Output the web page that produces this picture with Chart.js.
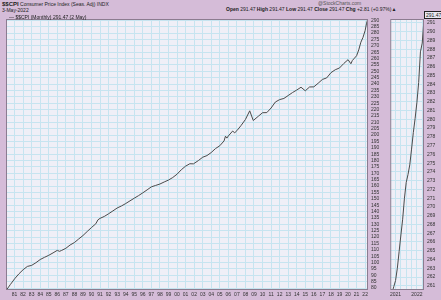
<!DOCTYPE html>
<html>
<head>
<meta charset="utf-8">
<script src="https://cdn.jsdelivr.net/npm/chart.js@4"></script>
<style>
  body { margin: 0; background: #d5bcd8; font-family: "Liberation Sans", Arial, sans-serif; }
  #wrap { position: relative; width: 441px; height: 300px; overflow: hidden; background: #d5bcd8; }
  canvas { position: absolute; }
  .t { position: absolute; font-size: 5px; color: #222; white-space: nowrap; line-height: 6px; }
  .b { font-weight: bold; }
</style>
</head>
<body>
<div id="wrap">
  <div class="t" style="left:2px;top:1px;"><span class="b" style="font-size:6px">$$CPI</span> Consumer Price Index (Seas. Adj) INDX</div>
  <div class="t" style="left:2px;top:7px;">3-May-2022</div>
  <div class="t" style="left:318px;top:0px;color:#555;">@StockCharts.com</div>
  <div class="t" style="left:226px;top:6px;"><span class="b">Open</span> 291.47 <span class="b">High</span> 291.47 <span class="b">Low</span> 291.47 <span class="b">Close</span> 291.47 <span class="b">Chg</span> +2.81 (+0.97%)&#9650;</div>
  <canvas id="left" width="382" height="287" style="left:6px;top:13px;"></canvas>
  <canvas id="right" width="53" height="287" style="left:388px;top:13px;"></canvas>
  <div class="t" style="left:9px;top:14px;">&#8212; $$CPI (Monthly) 291.47 (2 May)</div>
  <div class="t" style="left:424px;top:11px;background:#e8e8f0;border:1px solid #222;padding:0 1px;">291.47</div>
</div>
<script>
// CPI-U, seasonally adjusted (1980 - May 2022)
const leftDates = ['1980-01','1980-07','1981-01','1981-07','1982-01','1982-07','1983-01','1983-07',
  '1984-01','1984-07','1985-01','1985-07','1986-01','1986-04','1986-07','1987-01','1987-07',
  '1988-01','1988-07','1989-01','1989-07','1990-01','1990-07','1990-10','1991-01','1991-07',
  '1992-01','1992-07','1993-01','1993-07','1994-01','1994-07','1995-01','1995-07','1996-01',
  '1996-07','1997-01','1997-07','1998-01','1998-07','1999-01','1999-07','2000-01','2000-07',
  '2001-01','2001-07','2001-12','2002-07','2003-01','2003-07','2004-01','2004-07','2005-01',
  '2005-07','2005-09','2005-11','2006-01','2006-07','2006-10','2007-01','2007-07','2008-01',
  '2008-07','2008-12','2009-07','2010-01','2010-07','2011-01','2011-07','2012-01','2012-07',
  '2013-01','2013-07','2014-01','2014-07','2015-01','2015-07','2016-01','2016-07','2017-01',
  '2017-07','2018-01','2018-07','2019-01','2019-07','2020-01','2020-05','2020-07','2020-10',
  '2021-01','2021-04','2021-07','2021-10','2022-01','2022-03','2022-05'];
const leftValues = [78.0,82.7,87.2,91.1,94.4,97.0,97.8,99.9,
  102.4,104.1,105.7,107.6,109.6,108.8,109.5,111.2,113.8,
  115.7,118.5,121.2,124.4,127.5,130.4,133.5,134.7,136.2,
  138.3,140.5,142.8,144.4,146.3,148.4,150.5,152.5,154.7,
  157.0,159.4,160.5,161.6,163.2,164.7,166.7,169.3,172.8,
  175.6,177.5,177.4,180.0,182.6,183.9,186.3,189.4,191.6,
  195.4,199.1,197.6,199.3,203.1,201.8,203.4,207.6,212.2,
  219.0,211.4,214.7,217.5,217.6,221.2,225.9,227.8,228.7,
  231.0,233.3,235.3,237.5,234.7,237.7,237.8,240.6,243.6,
  244.8,248.9,251.2,252.6,256.1,259.1,255.9,258.4,260.3,
  262.2,266.8,272.8,276.6,282.0,287.7,291.47];

// monthly, Oct 2020 - May 2022 (zoomed panel)
const rightDates = ['2020-10','2020-11','2020-12','2021-01','2021-02','2021-03','2021-04','2021-05',
  '2021-06','2021-07','2021-08','2021-09','2021-10','2021-11','2021-12','2022-01','2022-02',
  '2022-03','2022-04','2022-05'];
const rightValues = [260.3,260.2,260.9,261.6,263.0,264.9,266.8,268.6,
  271.0,272.8,273.7,274.8,276.6,278.5,280.1,281.9,284.2,
  287.7,288.7,291.47];

const yearLabels = ['2021', '2022'];

function toYear(s) {
  const p = s.split('-');
  return +p[0] + (+p[1] - 1) / 12;
}
function points(dates, vals) {
  return dates.map((d, i) => ({ x: toYear(d), y: vals[i] }));
}

const plotBg = {
  id: 'plotBg',
  beforeDraw(chart) {
    const a = chart.chartArea, c = chart.ctx;
    c.save();
    c.fillStyle = '#efeff7';
    c.fillRect(a.left, a.top, a.right - a.left, a.bottom - a.top);
    c.restore();
  },
  afterDraw(chart) {
    const a = chart.chartArea, c = chart.ctx;
    c.save();
    c.strokeStyle = '#8c7c90';
    c.lineWidth = 1;
    c.strokeRect(a.left + 0.5, a.top + 0.5, a.right - a.left - 1, a.bottom - a.top - 1);
    c.restore();
  }
};

const gridColor = '#c6e4f0';
const tickFont = { size: 5, family: 'Liberation Sans' };

function makeChart(id, data, opts) {
  return new Chart(document.getElementById(id), {
    type: 'line',
    data: { datasets: [{ data: data, borderColor: '#4a4a4a', borderWidth: 1, pointRadius: 0, tension: 0 }] },
    options: {
      responsive: false,
      animation: false,
      devicePixelRatio: 1,
      layout: { padding: 0 },
      plugins: { legend: { display: false }, tooltip: { enabled: false } },
      scales: {
        x: {
          type: 'linear',
          min: opts.xmin, max: opts.xmax,
          grid: { color: gridColor, drawTicks: false },
          border: { display: false },
          afterBuildTicks: s => { s.ticks = opts.xticks.map(v => ({ value: v })); },
          afterFit: s => { s.height = 10; },
          ticks: { font: tickFont, color: '#333', maxRotation: 0, autoSkip: false, padding: 2,
                   callback: opts.xlabel }
        },
        y: {
          position: 'right',
          min: opts.ymin, max: opts.ymax,
          grid: { color: gridColor, drawTicks: false },
          border: { display: false },
          afterFit: s => { s.width = opts.yw; },
          ticks: { stepSize: opts.ystep, includeBounds: false, autoSkip: false, font: tickFont,
                   color: '#333', padding: 3 }
        }
      }
    },
    plugins: [plotBg]
  });
}

const leftTicks = [];
for (let y = 1981; y <= 2022; y++) leftTicks.push(y);

makeChart('left', points(leftDates, leftValues), {
  xmin: 1980, xmax: 2022 + 4 / 12,
  xticks: leftTicks,
  xlabel: v => String(v).slice(2),
  ymin: 78.5, ymax: 291, ystep: 5, yw: 20
});

const rightTicks = [];
for (let q = 2021; q <= 2022.25; q += 0.25) rightTicks.push(q);

makeChart('right', points(rightDates, rightValues), {
  xmin: 2020.75, xmax: 2022 + 4 / 12,
  xticks: rightTicks,
  xlabel: v => Number.isInteger(v) ? yearLabels[v - 2021] : '',
  ymin: 260.52, ymax: 291.45, ystep: 1, yw: 17
});
</script>
</body>
</html>
